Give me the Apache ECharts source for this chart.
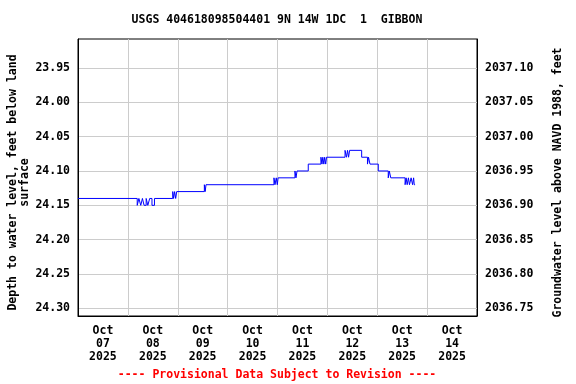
<!DOCTYPE html>
<html>
<head>
<meta charset="utf-8">
<script src="https://cdn.jsdelivr.net/npm/echarts@6/dist/echarts.min.js"></script>
<style>html,body{margin:0;padding:0;background:#fff}#c{width:576px;height:384px}</style>
</head>
<body>
<div id="c"></div>
<script>
var titleText = 'USGS 404618098504401 9N 14W 1DC  1  GIBBON';
var footerText = '---- Provisional Data Subject to Revision ----';
var dayLabels = ['Oct\n07\n2025','Oct\n08\n2025','Oct\n09\n2025','Oct\n10\n2025','Oct\n11\n2025','Oct\n12\n2025','Oct\n13\n2025','Oct\n14\n2025'];
var depthTicks = [23.95, 24.00, 24.05, 24.10, 24.15, 24.20, 24.25, 24.30];
var elevTicks = [2036.75, 2036.80, 2036.85, 2036.90, 2036.95, 2037.00, 2037.05, 2037.10];
// hours since 2025-10-07 00:00
var hours = [0, 28.5, 29.3, 30.2, 31.0, 31.8, 32.8, 33.6, 34.5, 35.6, 36.8,
  45.6, 46.0, 46.5, 47.0, 47.5,
  60.8, 61.2, 61.6,
  94.3, 94.8, 95.4, 95.9, 96.3,
  104.4, 104.9, 105.4,
  110.8,
  116.9, 117.4, 117.8, 118.3, 118.7, 119.2, 119.6,
  128.5, 129.2, 129.7, 130.2, 130.7,
  136.5,
  139.3, 139.8, 140.5,
  144.5,
  149.3, 149.8, 150.5,
  157.4, 157.9, 158.4, 159.0, 159.5, 160.3, 161.0, 161.5, 161.8, 162.2];
var depth = [24.14, 24.15, 24.14, 24.15, 24.14, 24.15, 24.14, 24.15, 24.14, 24.15, 24.14,
  24.13, 24.14, 24.13, 24.14, 24.13,
  24.12, 24.13, 24.12,
  24.11, 24.12, 24.11, 24.12, 24.11,
  24.10, 24.11, 24.10,
  24.09,
  24.08, 24.09, 24.08, 24.09, 24.08, 24.09, 24.08,
  24.07, 24.08, 24.07, 24.08, 24.07,
  24.08,
  24.09, 24.08, 24.09,
  24.10,
  24.11, 24.10, 24.11,
  24.12, 24.11, 24.12, 24.11, 24.12, 24.11, 24.12, 24.11, 24.12, 24.12];
var datum = 2061.05;
var depthMin = 23.908, depthMax = 24.311;

var FONT = 'DejaVu Sans Mono';
var seriesData = hours.map(function (h, i) { return [h, depth[i]]; });

var chart = echarts.init(document.getElementById('c'), null, {renderer: 'canvas'});
chart.setOption({
  animation: false,
  backgroundColor: '#fff',
  grid: {left: 78, right: 99, top: 39, bottom: 68, show: true, borderColor: '#000', borderWidth: 1, backgroundColor: 'transparent', containLabel: false, outerBoundsMode: 'none'},
  graphic: [
    {type: 'text', x: 277, y: 20, style: {text: titleText, font: 'bold 11.5px "DejaVu Sans Mono"', fill: '#000', textAlign: 'center', textVerticalAlign: 'middle'}},
    {type: 'text', x: 277, y: 375, style: {text: footerText, font: 'bold 11.5px "DejaVu Sans Mono"', fill: '#ff0000', textAlign: 'center', textVerticalAlign: 'middle'}}
  ],
  xAxis: [
    {type: 'category', data: dayLabels, boundaryGap: true, position: 'bottom',
     axisLine: {show: true, lineStyle: {color: '#000'}}, axisTick: {show: false},
     splitLine: {show: true, lineStyle: {color: '#cccccc', width: 1}},
     axisLabel: {fontFamily: FONT, fontWeight: 'bold', fontSize: 11.5, color: '#000', lineHeight: 13, margin: 9, interval: 0}},
    {type: 'value', min: 0, max: 192, show: false}
  ],
  yAxis: [
    {type: 'value', inverse: true, min: depthMin, max: depthMax, position: 'left',
     name: 'Depth to water level, feet below land\nsurface', nameLocation: 'middle', nameRotate: 90, nameGap: 47, nameMoveOverlap: false,
     nameTextStyle: {fontFamily: FONT, fontWeight: 'bold', fontSize: 11.5, color: '#000', lineHeight: 12, padding: [0, 10, 0, 0]},
     axisLine: {show: true, lineStyle: {color: '#000'}},
     axisTick: {show: false, customValues: depthTicks},
     splitLine: {show: true, lineStyle: {color: '#cccccc', width: 1}},
     axisLabel: {customValues: depthTicks, fontFamily: FONT, fontWeight: 'bold', fontSize: 11.5, color: '#000', margin: 8,
       formatter: function (v) { return v.toFixed(2); }}},
    {type: 'value', min: datum - depthMax, max: datum - depthMin, position: 'right',
     name: 'Groundwater level above NAVD 1988, feet', nameLocation: 'middle', nameRotate: 90, nameGap: 75, nameMoveOverlap: false,
     nameTextStyle: {fontFamily: FONT, fontWeight: 'bold', fontSize: 11.5, color: '#000', padding: [0, 10, 0, 0]},
     axisLine: {show: true, lineStyle: {color: '#000'}},
     axisTick: {show: false, customValues: elevTicks},
     splitLine: {show: false},
     axisLabel: {customValues: elevTicks, fontFamily: FONT, fontWeight: 'bold', fontSize: 11.5, color: '#000', margin: 8,
       formatter: function (v) { return v.toFixed(2); }}}
  ],
  series: [{
    type: 'line', xAxisIndex: 1, yAxisIndex: 0, data: seriesData, step: 'end',
    showSymbol: false, symbol: 'none', lineStyle: {color: '#0000ff', width: 1}, itemStyle: {color: '#0000ff'}
  }]
});
</script>
</body>
</html>
